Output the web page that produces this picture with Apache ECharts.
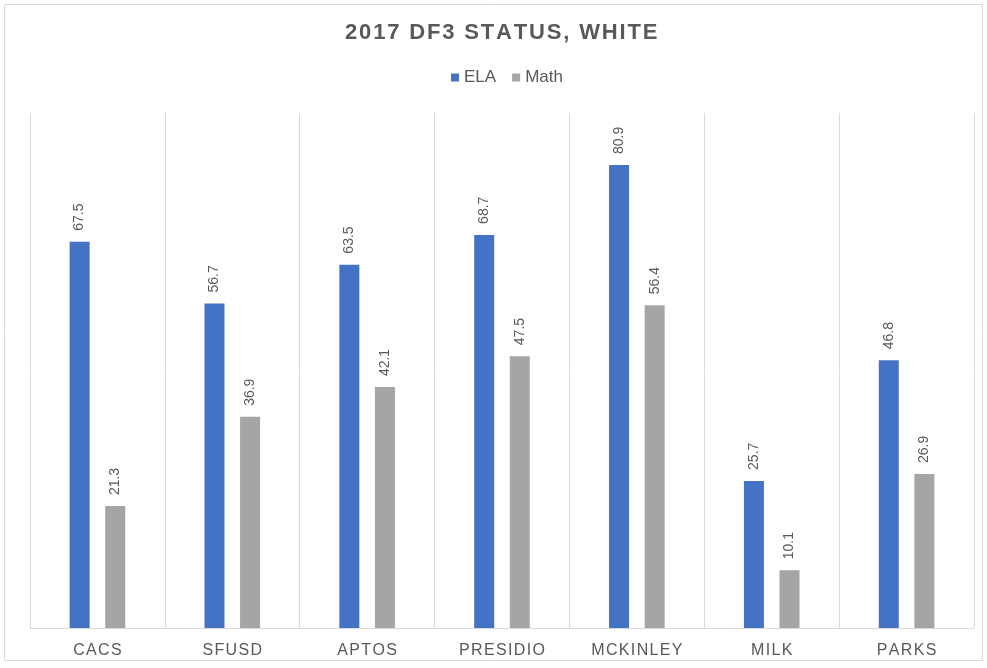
<!DOCTYPE html>
<html><head><meta charset="utf-8">
<script src="https://cdn.jsdelivr.net/npm/echarts@6/dist/echarts.min.js"></script>
<style>html,body{margin:0;padding:0;background:#fff}#c{width:987px;height:668px}</style>
</head><body><div id="c"></div>
<script>
const categories = ['CACS','SFUSD','APTOS','PRESIDIO','MCKINLEY','MILK','PARKS'];
const elaValues = [67.5, 56.7, 63.5, 68.7, 80.9, 25.7, 46.8];
const mathValues = [21.3, 36.9, 42.1, 47.5, 56.4, 10.1, 26.9];
const sp = (s, c) => s.split('').join(c);
const chart = echarts.init(document.getElementById('c'));
const lbl = {show:true, position:'top', rotate:90, align:'left', verticalAlign:'middle', distance:11,
  color:'#595959', fontSize:14, fontFamily:'Liberation Sans', formatter: p => p.value.toFixed(1)};
chart.setOption({
  backgroundColor:'#fff',
  animation:false,
  graphic:[{type:'rect', shape:{x:4.5,y:4.5,width:978,height:656}, style:{fill:'none', stroke:'#d9d9d9', lineWidth:1}}],
  title:{text: sp('2017 DF3 STATUS, WHITE', '\u200A'), left:340, top:17,
    textStyle:{fontFamily:'Liberation Sans', fontSize:22, fontWeight:'bold', color:'#595959'}},
  legend:{top:64, left:446, itemWidth:8, itemHeight:8, itemGap:16, icon:'rect',
    textStyle:{fontFamily:'Liberation Sans', fontSize:17, color:'#595959', padding:[0,0,0,0]}},
  grid:{left:30, right:13, top:113, bottom:40},
  xAxis:{type:'category', data:categories, boundaryGap:true,
    axisLine:{lineStyle:{color:'#d9d9d9'}}, axisTick:{show:false},
    splitLine:{show:true, lineStyle:{color:'#d9d9d9'}},
    axisLabel:{color:'#595959', fontFamily:'Liberation Sans', fontSize:16, margin:15,
      formatter: v => sp(v, '\u200A')}},
  yAxis:{type:'value', min:0, max:90, show:false, splitLine:{show:false}},
  series:[
    {name:'ELA', type:'bar', data:elaValues, barWidth:20, barGap:'78%', itemStyle:{color:'#4472c4'}, label:lbl},
    {name:'Math', type:'bar', data:mathValues, barWidth:20, itemStyle:{color:'#a5a5a5'}, label:lbl}
  ]
});
</script></body></html>
